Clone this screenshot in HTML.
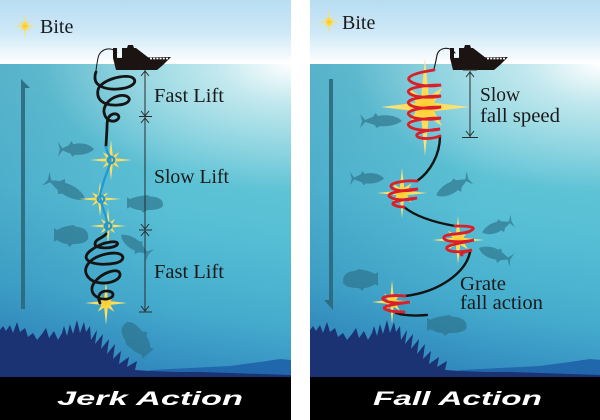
<!DOCTYPE html>
<html><head><meta charset="utf-8"><style>
html,body{margin:0;padding:0;background:#fff;}
svg{display:block;}
.lbl{font-family:"Liberation Serif",serif;font-size:20px;fill:#1a1a1a;}
.ttl{font-family:"Liberation Sans",sans-serif;font-weight:bold;font-style:italic;font-size:19px;fill:#fff;}
</style></head><body>
<svg width="600" height="420" viewBox="0 0 600 420" xmlns="http://www.w3.org/2000/svg">
<defs>
 <linearGradient id="sky" x1="0" y1="0" x2="0" y2="1">
  <stop offset="0" stop-color="#b8ddf2"/><stop offset="0.5" stop-color="#cde8f7"/>
  <stop offset="0.85" stop-color="#f0f8fc"/><stop offset="1" stop-color="#ffffff"/>
 </linearGradient>
 <linearGradient id="water" x1="0.15" y1="0" x2="0" y2="1">
  <stop offset="0" stop-color="#66c6d4"/><stop offset="0.4" stop-color="#58c0d5"/>
  <stop offset="0.7" stop-color="#44abcd"/><stop offset="1" stop-color="#2a7cb8"/>
 </linearGradient>
 <linearGradient id="waterR" x1="0" y1="0" x2="1" y2="0">
  <stop offset="0" stop-color="#1d5f9e" stop-opacity="0.18"/><stop offset="0.6" stop-color="#1d5f9e" stop-opacity="0"/>
 </linearGradient>
 <radialGradient id="glow" cx="1" cy="0" r="0.86" gradientTransform="translate(1,0) scale(1,0.48) translate(-1,0)">
  <stop offset="0" stop-color="#ffffff" stop-opacity="1"/><stop offset="0.3" stop-color="#ffffff" stop-opacity="0.6"/>
  <stop offset="1" stop-color="#ffffff" stop-opacity="0"/>
 </radialGradient>
 <radialGradient id="sg" cx="0.5" cy="0.5" r="0.5">
  <stop offset="0" stop-color="#ffc928"/><stop offset="0.3" stop-color="#ffdc55"/>
  <stop offset="1" stop-color="#f5e58e"/>
 </radialGradient>
 <polygon id="star" fill="url(#sg)" points="20,0 4.16,1.72 7.8,7.8 1.72,4.16 0,20 -1.72,4.16 -7.8,7.8 -4.16,1.72 -20,0 -4.16,-1.72 -7.8,-7.8 -1.72,-4.16 0,-20 1.72,-4.16 7.8,-7.8 4.16,-1.72"/>
 <path id="tuna" d="M40,8 C36,3 26,1 17,3 L15,0 L12,4 C9,5 7,6 5,7 L0,1 L2,8 L0,15 L5,9 C8,10 11,11 14,12 L16,15 L19,13 C26,14 35,12 40,8 Z"/>
 <path id="grouper" d="M36,11 C36,6 31,2 24,2 L20,0 L10,2 C7,3 5,4 3,5 L0,3 L0,17 L3,15 C6,17 10,19 14,19 L16,22 L20,19 C26,19 32,18 34,16 L36,14 Z"/>
 <g id="bg">
  <rect x="0" y="0" width="291" height="64" fill="url(#sky)"/>
  <rect x="0" y="64" width="291" height="313" fill="url(#water)"/>
  <rect x="0" y="64" width="291" height="313" fill="url(#waterR)"/>
  <rect x="0" y="64" width="291" height="313" fill="url(#glow)"/>
  <path fill="#2067ac" d="M140,377 L150,370 L190,368 L230,366 L260,362 L280,359 L291,360 L291,377 Z"/>
  <path fill="#1b3273" d="M0,377 L0,330 L3,326 L6,331 L10,325 L13,333 L17,322 L20,332 L25,328 L28,337 L33,333 L37,340 L42,334 L46,328 L49,338 L54,331 L58,340 L62,333 L64,326 L67,336 L70,324 L73,334 L77,320 L80,333 L84,322 L86,332 L90,326 L91,340 L97,330 L95,344 L103,334 L101,349 L109,339 L107,354 L115,344 L113,359 L121,351 L119,364 L129,357 L127,367 L137,361 L135,370 L150,371 L175,372 L200,372 L230,373 L260,374 L291,375 L291,377 Z"/>
  <rect x="0" y="377" width="291" height="43" fill="#000"/>
 </g>
 <g id="boat" fill="#1c1412">
  <path d="M113,58 L171,57 L163,65 L157,70 L116,70 Z"/>
  <path d="M122,58 L122,48 L127,48 L128,45 L133,45 L134,48 L136,48 L149,58 Z"/>
  <rect x="113" y="48" width="4" height="10"/>
  <line x1="150" y1="58.6" x2="168" y2="58.6" stroke="#fff" stroke-width="1.6" stroke-dasharray="2,1.2"/>
 </g>
</defs>

<use href="#bg"/>
<use href="#bg" transform="translate(310,0)"/>

<!-- ============ LEFT PANEL ============ -->
<path d="M21,79 L30,88 L25,88 L25,309 L21,309 Z" fill="#2a6579" opacity="0.85"/>
<g fill="#2b6e86" opacity="0.62">
 <use href="#tuna" transform="translate(58,141) scale(0.9,1.05)"/>
 <use href="#tuna" transform="translate(50,171) rotate(28) scale(1.12,1.1)"/>
 <use href="#grouper" transform="translate(127,195) scale(1,0.8)"/>
 <use href="#grouper" transform="translate(54,225) scale(0.95,1)"/>
 <use href="#tuna" transform="translate(150,255) rotate(215) scale(0.88,1) translate(0,-8)"/>
 <use href="#grouper" transform="translate(149,353) rotate(230) scale(1.05,1.1) translate(0,-11)"/>
</g>
<use href="#star" transform="translate(25,26) scale(0.6,0.65)"/>
<text class="lbl" x="40" y="33">Bite</text>
<use href="#boat"/>
<g stroke="#2b2b2b" stroke-width="1" fill="none">
 <line x1="145" y1="70" x2="145" y2="312"/>
 <path d="M141,76 L145,71 L149,76"/>
 <path d="M141,111 L145,116 L149,111"/><line x1="139" y1="116.5" x2="152" y2="116.5"/><path d="M141,123 L145,118 L149,123"/>
 <path d="M141,224 L145,229 L149,224"/><line x1="139" y1="230" x2="152" y2="230"/><path d="M141,236 L145,231 L149,236"/>
 <path d="M141,306 L145,311 L149,306"/><line x1="139" y1="312" x2="152" y2="312"/>
</g>
<text class="lbl" x="154" y="102" textLength="70" lengthAdjust="spacingAndGlyphs">Fast Lift</text>
<text class="lbl" x="154" y="183" textLength="75" lengthAdjust="spacingAndGlyphs">Slow Lift</text>
<text class="lbl" x="154" y="278" textLength="70" lengthAdjust="spacingAndGlyphs">Fast Lift</text>
<use href="#star" transform="translate(111,160) scale(1.05,1)"/>
<use href="#star" transform="translate(100,199) scale(1.05,0.85)"/>
<use href="#star" transform="translate(108,226) scale(0.9,0.9)"/>
<use href="#star" transform="translate(106,303) scale(1.05,1.1)"/>
<path fill="none" stroke="#141414" stroke-width="1" d="M117,53 C112,46 100,48 98,58 C97,64 96,68 96,72"/>
<path fill="none" stroke="#141414" stroke-width="2.8" stroke-linecap="round" d="M96,72 C95,74 95,76 95,78 C95,86 106,90 118,89 C132,88 138,82 133,78 C126,73 100,80 98,90 C96,100 104,106 118,105 C130,104 132,98 126,96 C117,93 103,102 104,112 C105,120 112,123 117,120 C121,117 118,113 113,114 C107,116 107,122 107,128 L106,146"/>
<g fill="none" stroke="#1e98d8" stroke-width="2.3">
 <path d="M106,146 C106,151 109,154 110,157 C112,164 106,172 103,184 C101,190 100,193 100,196 C101,206 106,214 107,222 C108,228 106,230 106,234"/>
 <circle cx="111" cy="160" r="3.3"/>
 <circle cx="101" cy="199" r="3.3"/>
 <circle cx="108" cy="226" r="3.3"/>
</g>
<path fill="none" stroke="#141414" stroke-width="2.8" stroke-linecap="round" d="M106,234 C103,238 95,239 95,244 C95,249 112,249 117,245 C121,240 104,240 90,251 C78,261 96,267 116,263 C128,260 124,250 106,254 C88,258 80,270 90,279 C100,287 121,282 120,274 C119,267 102,272 94,283 C88,292 96,300 107,299 C115,298 115,291 107,291 C99,291 97,297 100,303"/>
<text class="ttl" x="57" y="405" textLength="186" lengthAdjust="spacingAndGlyphs">Jerk Action</text>

<!-- ============ RIGHT PANEL ============ -->
<path d="M329,79 L333,79 L333,310 L324,300 L329,300 Z" fill="#2a6579" opacity="0.85"/>
<g fill="#2b6e86" opacity="0.62">
 <use href="#tuna" transform="translate(360,113) scale(1.05,1)"/>
 <use href="#tuna" transform="translate(350,171) scale(0.85,0.95)"/>
 <use href="#tuna" transform="translate(470,178) rotate(153) scale(0.95,1.05) translate(0,-8)"/>
 <use href="#tuna" transform="translate(513,221) rotate(160) scale(0.82,0.95) translate(0,-8)"/>
 <use href="#tuna" transform="translate(512,260) rotate(200) scale(0.88,1) translate(0,-8)"/>
 <use href="#grouper" transform="translate(378,269) scale(-0.97,1)"/>
 <use href="#grouper" transform="translate(427,315) scale(1.1,0.95)"/>
</g>
<use href="#star" transform="translate(329,22) scale(0.6,0.65)"/>
<text class="lbl" x="342" y="29">Bite</text>
<use href="#boat" transform="translate(337,0)"/>
<g stroke="#2b2b2b" stroke-width="1" fill="none">
 <line x1="463" y1="70" x2="477" y2="70"/>
 <line x1="470" y1="71" x2="470" y2="137"/>
 <path d="M466,77 L470,72 L474,77"/>
 <path d="M466,131 L470,136 L474,131"/><line x1="462" y1="137.5" x2="478" y2="137.5"/>
</g>
<text class="lbl" x="480" y="101" textLength="40" lengthAdjust="spacingAndGlyphs">Slow</text>
<text class="lbl" x="480" y="122" textLength="80" lengthAdjust="spacingAndGlyphs">fall speed</text>
<text class="lbl" x="460" y="290" textLength="46" lengthAdjust="spacingAndGlyphs">Grate</text>
<text class="lbl" x="460" y="309" textLength="83" lengthAdjust="spacingAndGlyphs">fall action</text>
<use href="#star" transform="translate(425,107) scale(2.2,2.45)"/>
<use href="#star" transform="translate(402,193) scale(1.25,1.25)"/>
<use href="#star" transform="translate(458,240) scale(1.3,1.2)"/>
<use href="#star" transform="translate(392,302) scale(1,1.1)"/>
<g fill="none" stroke="#141414" stroke-width="2.4" stroke-linecap="round">
 <path stroke-width="1.1" d="M455,53 C450,46 439,47 437,55 C436,61 435,65 434,69"/>
 <path d="M440,136 C440,155 430,172 417,181"/>
 <path d="M404,207 C415,216 432,222 455,226"/>
 <path d="M470,252 C466,272 440,292 405,296"/>
 <path d="M396,313 C405,316 415,316 427,315"/>
</g>
<g fill="none" stroke="#d81f2a" stroke-width="2.8" stroke-linecap="round">
 <path d="M434,70 C420,72 404,76 410,81 C416,86 432,87 441,85 C425,85 404,88 409,93 C414,98 432,98 441,96 C425,96 404,99 409,104 C414,109 432,109 441,107 C425,107 404,110 409,115 C414,120 432,120 441,118 C425,118 404,121 409,126 C414,131 432,131 440,129 C428,130 412,133 418,137 C424,140 435,138 440,136"/>
 <path d="M417,181 C405,180 386,183 392,188 C398,192 410,191 418,189 C404,190 384,193 390,197 C396,201 410,200 417,198 C406,199 388,202 394,205 C398,207 402,207 404,207"/>
 <path d="M455,226 C462,226 478,226 472,230 C466,235 446,233 444,237 C442,242 460,243 474,240 C462,243 444,245 447,249 C450,253 464,252 472,250 C466,252 458,253 462,255"/>
 <path d="M405,296 C395,295 378,296 384,300 C390,304 404,303 410,302 C398,304 380,306 385,309 C390,312 400,312 404,312"/>
</g>
<text class="ttl" x="373" y="405" textLength="169" lengthAdjust="spacingAndGlyphs">Fall Action</text>
</svg>
</body></html>
